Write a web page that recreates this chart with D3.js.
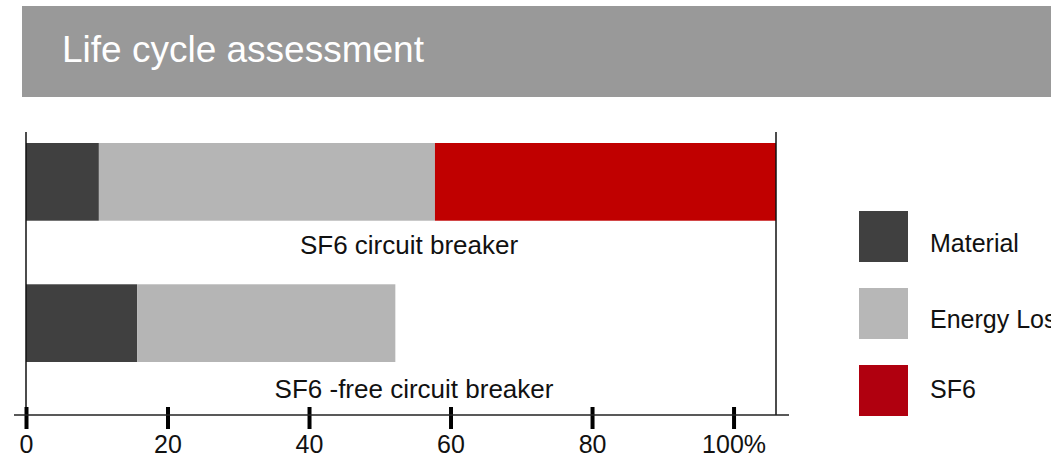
<!doctype html>
<html>
  <head>
    <script src="https://cdn.jsdelivr.net/npm/d3@7"></script>
    <style>
      body { margin:0; background:#fff; }
      text { font-family:"Liberation Sans", Arial, sans-serif; }
    </style>
  </head>
  <body>
    <div id="my_dataviz"></div>
    <script>
      // data (percent)
      var categories = ["SF6 circuit breaker", "SF6 -free circuit breaker"];
      var series = ["Material", "Energy Loss", "SF6"];
      var material = [10.3, 15.7];
      var energyLoss = [47.5, 36.5];
      var sf6 = [48.2, 0];
      var tickValues = [0, 20, 40, 60, 80, 100];
      var tickLabels = ["0", "20", "40", "60", "80", "100%"];

      var barColors = ["#404040", "#b5b5b5", "#c00000"];
      var legendColors = ["#404040", "#b7b7b7", "#b0000f"];

      var W = 1051, H = 460;
      var svg = d3.select("#my_dataviz")
        .append("svg")
          .attr("width", W)
          .attr("height", H);

      // header band
      svg.append("rect")
        .attr("x", 22).attr("y", 6)
        .attr("width", W - 22).attr("height", 91)
        .attr("fill", "#999999");
      svg.append("text")
        .attr("x", 62).attr("y", 62)
        .text("Life cycle assessment")
        .style("fill", "white")
        .style("font-size", "37px");

      // rebuild rows for the stack
      var rows = categories.map(function(c, i) {
        return {cat: c, "Material": material[i], "Energy Loss": energyLoss[i], "SF6": sf6[i]};
      });
      var stacked = d3.stack().keys(series)(rows);

      var x = d3.scaleLinear()
        .domain([0, 106])
        .range([26, 776]);

      var y = d3.scaleBand()
        .domain(categories)
        .range([143, 362])
        .paddingInner(0.45)
        .paddingOuter(0);

      var color = d3.scaleOrdinal().domain(series).range(barColors);

      // bars
      svg.selectAll("myLayers")
        .data(stacked)
        .enter()
        .append("g")
          .attr("fill", function(d) { return color(d.key); })
        .selectAll("rect")
        .data(function(d) { return d; })
        .enter()
        .append("rect")
          .attr("x", function(d) { return x(d[0]); })
          .attr("y", function(d) { return y(d.data.cat); })
          .attr("width", function(d) { return x(d[1]) - x(d[0]); })
          .attr("height", y.bandwidth());

      // frame lines left and right
      var axisY = 415;
      svg.selectAll("frameLines")
        .data(x.range())
        .enter()
        .append("line")
          .attr("x1", function(d) { return d; })
          .attr("x2", function(d) { return d; })
          .attr("y1", 132)
          .attr("y2", axisY)
          .attr("stroke", "#111")
          .attr("stroke-width", 1.5);

      // category labels under each bar
      var labelX = [409, 414];
      svg.selectAll("catLabels")
        .data(categories)
        .enter()
        .append("text")
          .attr("x", function(d, i) { return labelX[i]; })
          .attr("y", function(d, i) { return y(d) + y.bandwidth() + (i == 0 ? 33 : 36); })
          .attr("text-anchor", "middle")
          .text(function(d) { return d; })
          .style("fill", "#111")
          .style("font-size", "26px");

      // x axis
      var xAxis = svg.append("g")
        .attr("transform", "translate(0," + axisY + ")")
        .call(d3.axisBottom(x)
          .tickValues(tickValues)
          .tickFormat(function(d, i) { return tickLabels[i]; })
          .tickSizeOuter(0));
      xAxis.select(".domain").remove();
      xAxis.append("line")
        .attr("x1", 14).attr("x2", 789)
        .attr("y1", 0).attr("y2", 0)
        .attr("stroke", "#222")
        .attr("stroke-width", 1.5);
      xAxis.selectAll(".tick line")
        .attr("y1", -8)
        .attr("y2", 14)
        .attr("stroke", "#000")
        .attr("stroke-width", 4);
      xAxis.selectAll(".tick text")
        .attr("y", 38)
        .attr("dy", null)
        .style("fill", "#111")
        .style("font-size", "25px")
        .style("font-family", "'Liberation Sans', Arial, sans-serif");

      // legend (text baselines are not evenly spaced in the original)
      var legendTextY = [41, 40, 33];
      var legend = svg.selectAll("myLegend")
        .data(series)
        .enter()
        .append("g")
          .attr("transform", function(d, i) { return "translate(859," + (211 + i * 77) + ")"; });
      legend.append("rect")
        .attr("width", 49)
        .attr("height", 51)
        .attr("fill", function(d, i) { return legendColors[i]; });
      legend.append("text")
        .attr("x", 71)
        .attr("y", function(d, i) { return legendTextY[i]; })
        .text(function(d) { return d; })
        .style("fill", "#111")
        .style("font-size", "25px");
    </script>
  </body>
</html>
